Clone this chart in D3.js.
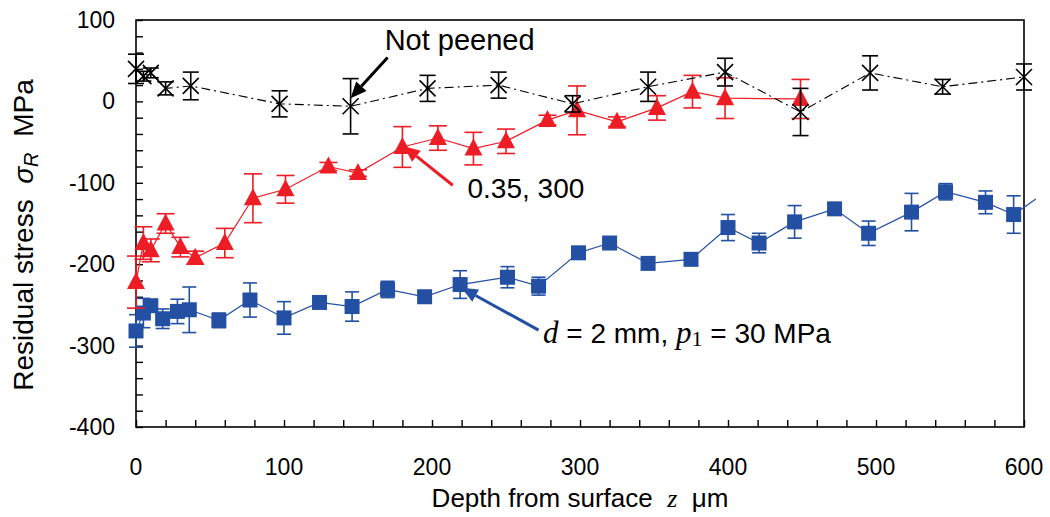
<!DOCTYPE html>
<html>
<head>
<meta charset="utf-8">
<script src="https://cdn.jsdelivr.net/npm/d3@7"></script>
<style>
  body { margin: 0; background: #fff; }
  svg { display: block; }
</style>
</head>
<body>
<svg id="chart" width="1050" height="517"></svg>
<script>
// Not peened
const npZ = [0, 5, 10, 20, 37, 97, 145, 197, 245, 295, 346, 398, 449, 496, 545, 600];
const npS = [40, 31, 35, 16, 19, -3, -6, 16, 20, -3, 18, 36, -13, 35, 18, 30];
const npErr = [18, 6, 6, 8, 17, 16, 34, 16, 16, 10, 18, 17, 29, 21, 9, 16];

// 0.35, 300
const redZ = [0, 5, 10, 20, 30, 40, 60, 79, 101, 130, 150, 180, 204, 228, 250, 278, 298, 325, 352, 376, 398, 449];
const redS = [-222, -174, -183, -150, -179, -192, -174, -119, -108, -80, -88, -56, -45, -58, -49, -23, -11, -25, -8, 12, 4, 3];
const redErr = [32, 20, 14, 12, 12, 8, 18, 30, 17, 5, 4, 25, 15, 20, 15, 6, 30, 6, 15, 20, 25, 24];

// d = 2 mm, p1 = 30 MPa
const blueZ = [0, 5, 10, 18, 28, 36, 56, 77, 100, 124, 146, 170, 195, 219, 251, 272, 299, 320, 346, 375, 400, 421, 445, 472, 495, 524, 547, 574, 593];
const blueS = [-282, -260, -251, -267, -258, -256, -269, -244, -266, -247, -252, -231, -240, -225, -216, -227, -186, -174, -199, -194, -155, -174, -148, -132, -162, -136, -111, -124, -139];
const blueErr = [20, 18, 5, 12, 15, 28, 9, 21, 20, 4, 18, 10, 5, 17, 13, 11, 6, 4, 4, 4, 16, 12, 20, 4, 15, 23, 10, 14, 23];
// next point lies past the 600 um edge, only its line shows
const blueTailZ = [593, 608];
const blueTailS = [-139, -120];

const xTicks = [0, 100, 200, 300, 400, 500, 600];
const yTicks = [100, 0, -100, -200, -300, -400];

const RED = '#ee1c25';
const BLUE = '#2450a3';
const SANS = '"Liberation Sans", Arial, sans-serif';
const SERIF = '"Liberation Serif", "Times New Roman", serif';

const svg = d3.select('#chart');

const x = d3.scaleLinear().domain([0, 600]).range([136, 1024]);
const y = d3.scaleLinear().domain([-400, 100]).range([427, 20]);

// frame
svg.append('rect')
  .attr('x', x(0)).attr('y', y(100))
  .attr('width', x(600) - x(0)).attr('height', y(-400) - y(100))
  .attr('fill', 'none').attr('stroke', '#000').attr('stroke-width', 1.6);

// inward ticks, minor every 20
const xAxis = d3.axisBottom(x).tickValues(d3.range(0, 601, 20)).tickSize(-7).tickFormat('');
svg.append('g').attr('transform', `translate(0,${y(-400)})`).call(xAxis)
  .call(g => g.select('.domain').remove())
  .call(g => g.selectAll('line').attr('stroke-width', 1.4));
const yAxis = d3.axisLeft(y).tickValues(d3.range(-400, 101, 20)).tickSize(-7).tickFormat('');
svg.append('g').attr('transform', `translate(${x(0)},0)`).call(yAxis)
  .call(g => g.select('.domain').remove())
  .call(g => g.selectAll('line').attr('stroke-width', 1.4));

// tick labels
svg.append('g').selectAll('text').data(xTicks).enter().append('text')
  .attr('x', d => x(d)).attr('y', 475)
  .attr('text-anchor', 'middle')
  .attr('font-family', SANS).attr('font-size', 23)
  .text(d => d);
svg.append('g').selectAll('text').data(yTicks).enter().append('text')
  .attr('x', 115).attr('y', d => y(d) + 8)
  .attr('text-anchor', 'end')
  .attr('font-family', SANS).attr('font-size', 23)
  .text(d => d);

// axis titles
const xt = svg.append('text')
  .attr('x', 580).attr('y', 507)
  .attr('text-anchor', 'middle')
  .attr('font-family', SANS).attr('font-size', 26)
  .attr('xml:space', 'preserve');
xt.append('tspan').text('Depth from surface  ');
xt.append('tspan').attr('font-family', SERIF).attr('font-style', 'italic').text('z');
xt.append('tspan').text('  μm');

const yt = svg.append('text')
  .attr('transform', 'translate(33,235) rotate(-90)')
  .attr('text-anchor', 'middle')
  .attr('font-family', SANS).attr('font-size', 28)
  .attr('xml:space', 'preserve');
yt.append('tspan').text('Residual stress  ');
yt.append('tspan').attr('font-style', 'italic').text('σ');
yt.append('tspan').attr('font-style', 'italic').attr('font-size', 20).attr('dy', 5).text('R');
yt.append('tspan').attr('dy', -5).text('  MPa');

function series(zs, ss, es, color, opts) {
  const pts = zs.map((z, i) => ({z: z, s: ss[i], e: es[i]}));
  const g = svg.append('g');
  const line = d3.line().x(d => x(d.z)).y(d => y(d.s));
  g.append('path')
    .attr('d', line(pts))
    .attr('fill', 'none')
    .attr('stroke', color)
    .attr('stroke-width', opts.lw)
    .attr('stroke-dasharray', opts.dash || null);

  // error bars
  const eb = g.append('g').attr('stroke', color).attr('stroke-width', 1.6);
  pts.forEach(d => {
    eb.append('line').attr('x1', x(d.z)).attr('x2', x(d.z))
      .attr('y1', y(d.s + d.e)).attr('y2', y(d.s - d.e));
    [d.s + d.e, d.s - d.e].forEach(v => {
      eb.append('line').attr('x1', x(d.z) - opts.cap / 2).attr('x2', x(d.z) + opts.cap / 2)
        .attr('y1', y(v)).attr('y2', y(v));
    });
  });

  // markers
  const m = g.append('g').selectAll('g').data(pts).enter().append('g')
    .attr('transform', d => `translate(${x(d.z)},${y(d.s)})`);
  if (opts.marker === 'square') {
    m.append('rect').attr('x', -7.5).attr('y', -7.5).attr('width', 15).attr('height', 15)
      .attr('fill', color);
  } else if (opts.marker === 'triangle') {
    m.append('path').attr('d', 'M0,-10L9,7L-9,7Z').attr('fill', color);
  } else {
    m.append('path').attr('d', 'M-8,-8L8,8M-8,8L8,-8')
      .attr('stroke', color).attr('stroke-width', 1.6);
  }
  return g;
}

// line past the right edge
svg.append('path')
  .attr('d', d3.line().x(d => x(d[0])).y(d => y(d[1]))(blueTailZ.map((z, i) => [z, blueTailS[i]])))
  .attr('fill', 'none').attr('stroke', BLUE).attr('stroke-width', 1.2);

series(blueZ, blueS, blueErr, BLUE, {lw: 1.2, cap: 14, marker: 'square'});
series(redZ, redS, redErr, RED, {lw: 1.2, cap: 18, marker: 'triangle'});
series(npZ, npS, npErr, '#000', {lw: 1.1, cap: 16, marker: 'x', dash: '9,4,2,4'});

// annotation arrows
function arrow(from, to, color) {
  const x1 = x(from[0]), y1 = y(from[1]), x2 = x(to[0]), y2 = y(to[1]);
  const a = Math.atan2(y2 - y1, x2 - x1);
  const len = 16, w = 7;
  const bx = x2 - len * Math.cos(a), by = y2 - len * Math.sin(a);
  svg.append('line')
    .attr('x1', x1).attr('y1', y1).attr('x2', bx).attr('y2', by)
    .attr('stroke', color).attr('stroke-width', 3);
  svg.append('path')
    .attr('d', `M${x2},${y2}L${bx + w * Math.sin(a)},${by - w * Math.cos(a)}L${bx - w * Math.sin(a)},${by + w * Math.cos(a)}Z`)
    .attr('fill', color);
}
arrow([170, 54], [145, 4], '#000');
arrow([214, -103], [181, -55], RED);
arrow([272, -281], [220, -229], BLUE);

// labels
svg.append('text')
  .attr('x', x(168)).attr('y', y(63))
  .attr('font-family', SANS).attr('font-size', 29)
  .text('Not peened');
svg.append('text')
  .attr('x', x(224)).attr('y', y(-119))
  .attr('font-family', SANS).attr('font-size', 28)
  .text('0.35, 300');
const bl = svg.append('text')
  .attr('x', x(275)).attr('y', y(-297))
  .attr('font-family', SANS).attr('font-size', 28)
  .attr('xml:space', 'preserve');
bl.append('tspan').attr('font-family', SERIF).attr('font-style', 'italic').attr('font-size', 31).text('d');
bl.append('tspan').text(' = 2 mm, ');
bl.append('tspan').attr('font-family', SERIF).attr('font-style', 'italic').attr('font-size', 31).text('p');
bl.append('tspan').attr('font-family', SERIF).attr('font-size', 22).attr('dy', 3).text('1');
bl.append('tspan').attr('dy', -3).text(' = 30 MPa');
</script>
</body>
</html>
